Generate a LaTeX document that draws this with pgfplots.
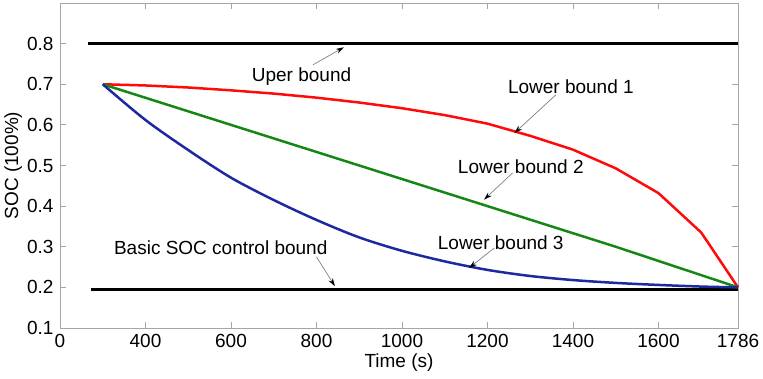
\documentclass[border=0pt]{standalone}
\usepackage{pgfplots}
\pgfplotsset{compat=1.18}
\usepackage{fontspec}
\setmainfont{Liberation Sans}
\usetikzlibrary{arrows.meta}
\definecolor{mred}{RGB}{255,10,10}
\definecolor{mgreen}{RGB}{20,135,20}
\definecolor{mblue}{RGB}{30,40,160}
\begin{document}
\fontsize{19}{22}\selectfont
\begin{tikzpicture}
\begin{axis}[
 scale only axis, width=678pt, height=325pt,
 xmin=200, xmax=1786, ymin=0.1, ymax=0.9,
 xtick={200,400,600,800,1000,1200,1400,1600,1786},
 xticklabels={0,400,600,800,1000,1200,1400,1600,1786},
 ytick={0.1,0.2,0.3,0.4,0.5,0.6,0.7,0.8},
 yticklabels={0.1,0.2,0.3,0.4,0.5,0.6,0.7,0.8},
 /pgf/number format/assume math mode=true,
 tick align=inside, major tick length=6pt,
 axis line style={gray!70, line width=0.8pt},
 tick style={gray!70, line width=0.8pt},
 ticklabel style={font=\fontsize{19}{22}\selectfont, black},
 label style={font=\fontsize{19}{22}\selectfont},
 xlabel={Time (s)}, ylabel={SOC (100\%)},
 xlabel style={at={(axis description cs:0.5,-0.105)}, anchor=center},
 ylabel style={at={(axis description cs:-0.069,0.5)}, anchor=center},
 clip=false,
]
% bounds
\addplot[black, line width=3pt] coordinates {(266,0.8) (1786,0.8)};
\addplot[black, line width=3pt] coordinates {(272,0.196) (1786,0.196)};
% Lower bound 1
\addplot[mred, line width=2.5pt] coordinates {
(300,0.700) (400,0.697) (500,0.692) (600,0.685) (700,0.677) (800,0.667)
(900,0.655) (1000,0.641) (1100,0.624) (1200,0.603) (1300,0.573)
(1400,0.539) (1500,0.493) (1600,0.432) (1700,0.335) (1786,0.200)};
% Lower bound 2
\addplot[mgreen, line width=2.5pt] coordinates {
(300,0.700) (600,0.600) (900,0.500) (1200,0.400) (1500,0.300) (1786,0.200)};
% Lower bound 3
\addplot[mblue, line width=2.5pt, smooth] coordinates {
(300,0.700) (400,0.612) (500,0.538) (600,0.470) (700,0.415) (800,0.366)
(900,0.323) (1000,0.290) (1100,0.264) (1200,0.243) (1300,0.228)
(1400,0.218) (1500,0.211) (1600,0.206) (1700,0.202) (1786,0.200)};
% annotations
\tikzset{ann/.style={gray, line width=0.7pt, -{Stealth[color=black,length=8pt,width=5pt]}}}
\node at (axis cs:765,0.719) {Uper bound};
\draw[ann] (axis cs:792,0.748) -- (axis cs:864,0.791);
\node at (axis cs:1395,0.695) {Lower bound 1};
\draw[ann] (axis cs:1360,0.674) -- (axis cs:1263,0.580);
\node at (axis cs:1278,0.498) {Lower bound 2};
\draw[ann] (axis cs:1259,0.482) -- (axis cs:1192,0.416);
\node at (axis cs:1231,0.310) {Lower bound 3};
\draw[ann] (axis cs:1216,0.297) -- (axis cs:1157,0.248);
\node at (axis cs:576,0.297) {Basic SOC control bound};
\draw[ann] (axis cs:800,0.275) -- (axis cs:843,0.203);
\end{axis}
\pgfresetboundingbox
\path ([xshift=-60pt,yshift=-50pt]current axis.south west) rectangle ([xshift=25pt,yshift=3pt]current axis.north east);
\end{tikzpicture}
\end{document}
